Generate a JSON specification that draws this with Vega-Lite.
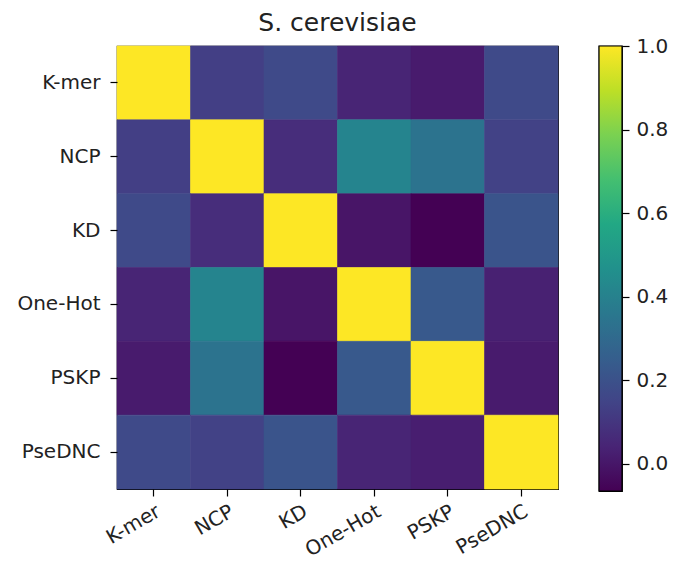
{
  "$schema": "https://vega.github.io/schema/vega-lite/v6.json",
  "padding": {"left": 16, "top": 10, "right": 0, "bottom": 0},
  "background": "white",
  "spacing": 38,
  "config": {
    "view": {"stroke": "black", "strokeWidth": 1.2},
    "axis": {"labelFont": "DejaVu Sans", "labelFontSize": 20, "labelColor": "#222222", "tickColor": "black", "tickWidth": 1.2, "domain": false, "grid": false, "tickSize": 7, "title": null}
  },
  "hconcat": [
    {
      "width": 441,
      "height": 443,
      "title": {"text": "S. cerevisiae", "fontSize": 25, "font": "DejaVu Sans", "fontWeight": "normal", "color": "#222222", "offset": 10, "anchor": "middle"},
      "data": {"values": [
        {"row": "K-mer", "col": "K-mer", "v": 1.0},
        {"row": "K-mer", "col": "NCP", "v": 0.13},
        {"row": "K-mer", "col": "KD", "v": 0.17},
        {"row": "K-mer", "col": "One-Hot", "v": 0.04},
        {"row": "K-mer", "col": "PSKP", "v": 0.01},
        {"row": "K-mer", "col": "PseDNC", "v": 0.17},
        {"row": "NCP", "col": "K-mer", "v": 0.13},
        {"row": "NCP", "col": "NCP", "v": 1.0},
        {"row": "NCP", "col": "KD", "v": 0.07},
        {"row": "NCP", "col": "One-Hot", "v": 0.41},
        {"row": "NCP", "col": "PSKP", "v": 0.34},
        {"row": "NCP", "col": "PseDNC", "v": 0.14},
        {"row": "KD", "col": "K-mer", "v": 0.17},
        {"row": "KD", "col": "NCP", "v": 0.07},
        {"row": "KD", "col": "KD", "v": 1.0},
        {"row": "KD", "col": "One-Hot", "v": -0.01},
        {"row": "KD", "col": "PSKP", "v": -0.065},
        {"row": "KD", "col": "PseDNC", "v": 0.21},
        {"row": "One-Hot", "col": "K-mer", "v": 0.04},
        {"row": "One-Hot", "col": "NCP", "v": 0.41},
        {"row": "One-Hot", "col": "KD", "v": -0.01},
        {"row": "One-Hot", "col": "One-Hot", "v": 1.0},
        {"row": "One-Hot", "col": "PSKP", "v": 0.23},
        {"row": "One-Hot", "col": "PseDNC", "v": 0.03},
        {"row": "PSKP", "col": "K-mer", "v": 0.01},
        {"row": "PSKP", "col": "NCP", "v": 0.34},
        {"row": "PSKP", "col": "KD", "v": -0.065},
        {"row": "PSKP", "col": "One-Hot", "v": 0.23},
        {"row": "PSKP", "col": "PSKP", "v": 1.0},
        {"row": "PSKP", "col": "PseDNC", "v": 0.01},
        {"row": "PseDNC", "col": "K-mer", "v": 0.17},
        {"row": "PseDNC", "col": "NCP", "v": 0.14},
        {"row": "PseDNC", "col": "KD", "v": 0.21},
        {"row": "PseDNC", "col": "One-Hot", "v": 0.04},
        {"row": "PseDNC", "col": "PSKP", "v": 0.02},
        {"row": "PseDNC", "col": "PseDNC", "v": 1.0}
      ]},
      "mark": {"type": "rect", "strokeWidth": 0.6},
      "encoding": {
        "x": {"field": "col", "type": "nominal", "sort": ["K-mer", "NCP", "KD", "One-Hot", "PSKP", "PseDNC"],
          "scale": {"paddingInner": 0, "paddingOuter": 0},
          "axis": {"labelAngle": -30, "labelAlign": "right", "labelBaseline": "top", "labelPadding": 5}},
        "y": {"field": "row", "type": "nominal", "sort": ["K-mer", "NCP", "KD", "One-Hot", "PSKP", "PseDNC"],
          "scale": {"paddingInner": 0, "paddingOuter": 0},
          "axis": {"labelPadding": 10}},
        "color": {"field": "v", "type": "quantitative", "scale": {"scheme": "viridis", "domain": [-0.065, 1.0]}, "legend": null},
        "stroke": {"field": "v", "type": "quantitative", "scale": {"scheme": "viridis", "domain": [-0.065, 1.0]}, "legend": null}
      }
    },
    {
      "width": 23,
      "height": 445,
      "data": {"values": [{"lo": -0.065, "hi": 1.0}]},
      "mark": {"type": "rect", "stroke": "black", "strokeWidth": 1.2,
        "fill": {"gradient": "linear", "x1": 0, "y1": 1, "x2": 0, "y2": 0, "stops": [
          {"offset": 0.0, "color": "#440154"},
          {"offset": 0.1, "color": "#482475"},
          {"offset": 0.2, "color": "#414487"},
          {"offset": 0.3, "color": "#355f8d"},
          {"offset": 0.4, "color": "#2a788e"},
          {"offset": 0.5, "color": "#21918c"},
          {"offset": 0.6, "color": "#22a884"},
          {"offset": 0.7, "color": "#44bf70"},
          {"offset": 0.8, "color": "#7ad151"},
          {"offset": 0.9, "color": "#bddf26"},
          {"offset": 1.0, "color": "#fde725"}
        ]}},
      "encoding": {
        "y": {"field": "lo", "type": "quantitative", "scale": {"domain": [-0.065, 1.0], "nice": false, "zero": false},
          "axis": {"orient": "right", "values": [0, 0.2, 0.4, 0.6, 0.8, 1.0], "format": ".1f", "labelPadding": 7}},
        "y2": {"field": "hi"}
      }
    }
  ]
}
